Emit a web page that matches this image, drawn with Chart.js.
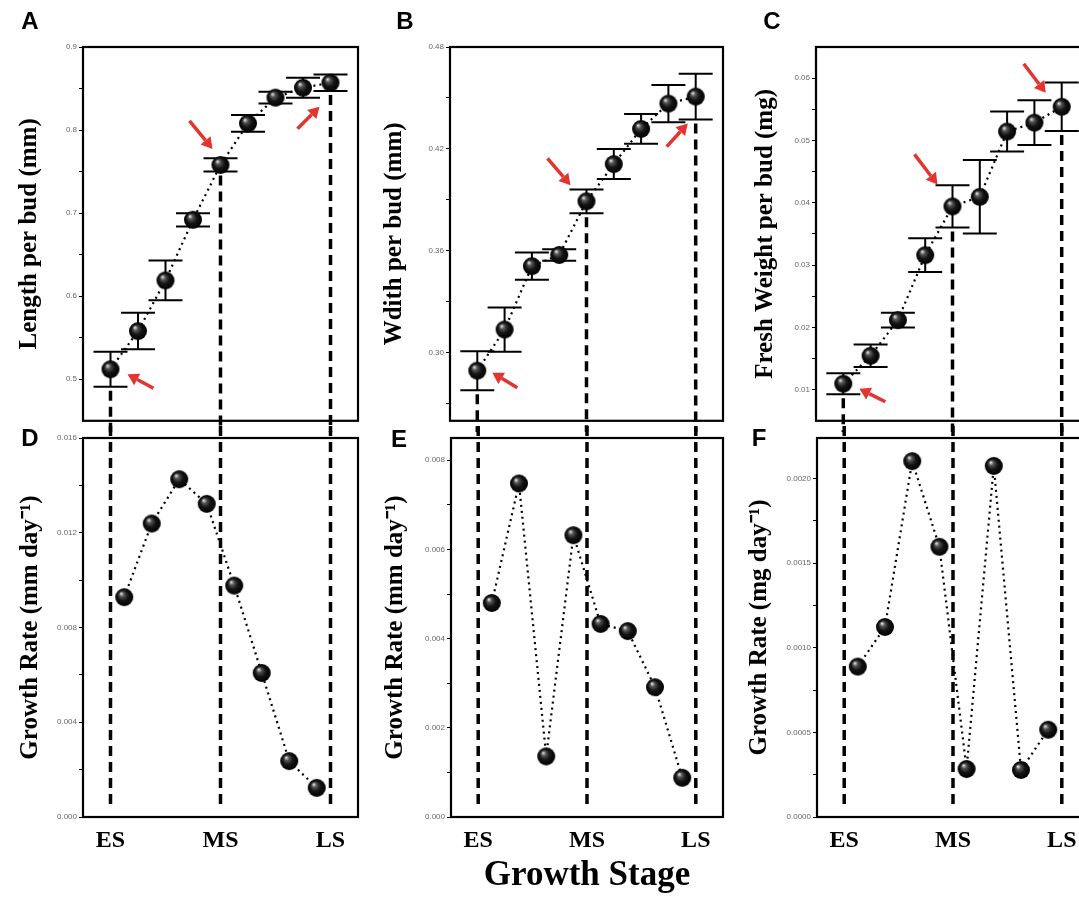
<!DOCTYPE html>
<html>
<head>
<meta charset="utf-8">
<script src="https://cdn.jsdelivr.net/npm/chart.js@4.4.0/dist/chart.umd.min.js"></script>
<style>
body { margin: 0; background: #fff; overflow: hidden; width: 1079px; height: 897px; position: relative; }
canvas { position: absolute; }
</style>
</head>
<body>
<canvas id="cA" width="370" height="432" style="left:0;top:0"></canvas>
<canvas id="cB" width="365" height="432" style="left:370px;top:0"></canvas>
<canvas id="cC" width="366" height="432" style="left:735px;top:0"></canvas>
<canvas id="cD" width="370" height="477" style="left:0;top:420px"></canvas>
<canvas id="cE" width="365" height="477" style="left:370px;top:420px"></canvas>
<canvas id="cF" width="366" height="477" style="left:735px;top:420px"></canvas>
<script>
// positions on the growth-stage axis
const budPos = [0, 1, 2, 3, 4, 5, 6, 7, 8];
const ratePos = [0.5, 1.5, 2.5, 3.5, 4.5, 5.5, 6.5, 7.5];
const stageLabels = ['ES', 'MS', 'LS'];
const stagePos = [0, 4, 8];

// bud size (mean +/- error)
const lengthMean = [0.512, 0.558, 0.619, 0.692, 0.758, 0.808, 0.839, 0.851, 0.857];
const lengthErr  = [0.021, 0.022, 0.024, 0.008, 0.008, 0.010, 0.007, 0.012, 0.010];
const widthMean  = [0.2895, 0.3137, 0.351, 0.3576, 0.3892, 0.4111, 0.4318, 0.4467, 0.4508];
const widthErr   = [0.0115, 0.013, 0.008, 0.0034, 0.007, 0.0088, 0.0087, 0.011, 0.0134];
const weightMean = [0.01095, 0.01544, 0.02116, 0.03159, 0.03941, 0.04095, 0.05143, 0.05286, 0.0554];
const weightErr  = [0.0017, 0.0018, 0.0012, 0.0027, 0.0034, 0.0059, 0.0032, 0.0036, 0.0039];

// growth rates between samplings
const lengthRate = [0.00928, 0.01239, 0.01426, 0.01322, 0.00977, 0.00608, 0.00236, 0.00123];
const widthRate  = [0.00480, 0.00748, 0.00136, 0.00632, 0.00433, 0.00417, 0.00291, 0.00088];
const weightRate = [0.000889, 0.001123, 0.002103, 0.001597, 0.000284, 0.002075, 0.000278, 0.000516];

// y ticks
const lengthTicks = [0.5, 0.6, 0.7, 0.8, 0.9];
const lengthMinor = [0.55, 0.65, 0.75, 0.85];
const widthTicks = [0.30, 0.36, 0.42, 0.48];
const widthMinor = [0.27, 0.33, 0.39, 0.45];
const weightTicks = [0.01, 0.02, 0.03, 0.04, 0.05, 0.06];
const weightMinor = [0.015, 0.025, 0.035, 0.045, 0.055];
const lengthRateTicks = [0, 0.004, 0.008, 0.012, 0.016];
const lengthRateMinor = [0.002, 0.006, 0.010, 0.014];
const widthRateTicks = [0, 0.002, 0.004, 0.006, 0.008];
const widthRateMinor = [0.001, 0.003, 0.005, 0.007];
const weightRateTicks = [0, 0.0005, 0.001, 0.0015, 0.002];
const weightRateMinor = [0.00025, 0.00075, 0.00125, 0.00175];

const serif = '"Liberation Serif", "Times New Roman", serif';
const sans = '"Liberation Sans", Arial, sans-serif';

// shiny black ball used as point marker
function makeBall(r) {
    const c = document.createElement('canvas');
    c.width = c.height = r * 2 + 2;
    const g = c.getContext('2d');
    const m = r + 1;
    const grad = g.createRadialGradient(m - r * 0.35, m - r * 0.4, 0.5, m, m, r);
    grad.addColorStop(0, '#d8d8d8');
    grad.addColorStop(0.22, '#555');
    grad.addColorStop(0.55, '#151515');
    grad.addColorStop(1, '#000');
    g.fillStyle = grad;
    g.beginPath();
    g.arc(m, m, r, 0, Math.PI * 2);
    g.fill();
    return c;
}
const ball = makeBall(9);

function drawArrow(ctx, x1, y1, x2, y2) {
    const a = Math.atan2(y2 - y1, x2 - x1);
    const hl = 11, hw = 6.5;
    const bx = x2 - hl * Math.cos(a), by = y2 - hl * Math.sin(a);
    ctx.strokeStyle = ctx.fillStyle = '#e3342f';
    ctx.lineWidth = 3.5;
    ctx.setLineDash([]);
    ctx.beginPath(); ctx.moveTo(x1, y1); ctx.lineTo(bx, by); ctx.stroke();
    ctx.beginPath();
    ctx.moveTo(x2, y2);
    ctx.lineTo(bx + hw * Math.sin(a), by - hw * Math.cos(a));
    ctx.lineTo(bx - hw * Math.sin(a), by + hw * Math.cos(a));
    ctx.closePath(); ctx.fill();
}

function makeDeco(p) {
    return {
        id: 'deco',
        beforeDatasetsDraw(chart) {
            const ctx = chart.ctx, xs = chart.scales.x, ys = chart.scales.y, area = chart.chartArea;
            ctx.save();
            // stage lines
            ctx.strokeStyle = '#000';
            ctx.lineWidth = 3.5;
            ctx.setLineDash([10, 6]);
            stagePos.forEach(s => {
                const px = xs.getPixelForValue(s);
                let y0, y1;
                if (p.err) {
                    const i = p.x.indexOf(s);
                    y0 = ys.getPixelForValue(p.y[i] - p.err[i]) + 4;
                    y1 = chart.height;
                } else {
                    y0 = area.top - 12;
                    y1 = area.bottom - 8;
                }
                ctx.beginPath(); ctx.moveTo(px, y0); ctx.lineTo(px, y1); ctx.stroke();
            });
            // error bars
            if (p.err) {
                ctx.setLineDash([]);
                ctx.lineWidth = 2;
                p.y.forEach((v, i) => {
                    const px = xs.getPixelForValue(p.x[i]);
                    const t = ys.getPixelForValue(v + p.err[i]);
                    const b = ys.getPixelForValue(v - p.err[i]);
                    ctx.beginPath();
                    ctx.moveTo(px, t); ctx.lineTo(px, b);
                    ctx.moveTo(px - 17, t); ctx.lineTo(px + 17, t);
                    ctx.moveTo(px - 17, b); ctx.lineTo(px + 17, b);
                    ctx.stroke();
                });
            }
            ctx.restore();
        },
        afterDraw(chart) {
            const ctx = chart.ctx, xs = chart.scales.x, ys = chart.scales.y, area = chart.chartArea;
            ctx.save();
            ctx.strokeStyle = '#000';
            ctx.lineWidth = 2.2;
            ctx.setLineDash([]);
            ctx.strokeRect(area.left, area.top, area.right - area.left, area.bottom - area.top);
            (p.arrows || []).forEach(a => {
                const px = xs.getPixelForValue(p.x[a.i]);
                const py = ys.getPixelForValue(p.y[a.i]);
                drawArrow(ctx, px + a.tx, py + a.ty, px + a.hx, py + a.hy);
            });
            ctx.fillStyle = '#000';
            ctx.font = 'bold 24px ' + sans;
            ctx.textAlign = 'center';
            ctx.textBaseline = 'middle';
            ctx.fillText(p.letter, p.letterPos[0], p.letterPos[1]);
            ctx.restore();
        }
    };
}

function makeChart(id, p) {
    const ticks = p.major.map(v => ({ value: v, label: v.toFixed(p.dec) }))
        .concat(p.minor.map(v => ({ value: v, label: '' })))
        .sort((a, b) => a.value - b.value);
    return new Chart(document.getElementById(id), {
        type: 'line',
        data: {
            datasets: [{
                data: p.x.map((x, i) => ({ x: x, y: p.y[i] })),
                borderColor: '#000',
                borderWidth: 2.2,
                borderDash: [2, 4],
                pointStyle: ball,
                pointRadius: 9,
                tension: 0,
                fill: false
            }]
        },
        options: {
            responsive: false,
            animation: false,
            devicePixelRatio: 1,
            layout: { padding: { top: p.padTop, bottom: p.padBottom, right: 12, left: 0 } },
            plugins: { legend: { display: false }, tooltip: { enabled: false } },
            scales: {
                x: {
                    type: 'linear',
                    min: -1,
                    max: 9,
                    display: !p.err,
                    border: { display: false },
                    grid: { display: false },
                    afterBuildTicks: s => { s.ticks = stagePos.map(v => ({ value: v })); },
                    afterFit: s => { if (!p.err) s.height = 80; },
                    ticks: {
                        autoSkip: false,
                        maxRotation: 0,
                        padding: 1,
                        color: '#000',
                        font: { family: serif, size: 24, weight: 'bold' },
                        callback: (v, i) => stageLabels[i]
                    },
                    title: {
                        display: !!p.xTitle,
                        text: p.xTitle || '',
                        color: '#000',
                        padding: { top: 0, bottom: 0 },
                        font: { family: serif, size: 35, weight: 'bold' }
                    }
                },
                y: {
                    min: p.ymin,
                    max: p.ymax,
                    border: { display: false },
                    grid: { drawOnChartArea: false, drawTicks: true, tickLength: 4, color: '#000', lineWidth: 1 },
                    afterBuildTicks: s => { s.ticks = ticks.map(t => ({ value: t.value })); },
                    afterFit: s => { s.width = p.yWidth; },
                    ticks: {
                        padding: 2,
                        color: '#666',
                        font: { family: sans, size: 8 },
                        callback: (v, i) => ticks[i].label
                    },
                    title: {
                        display: true,
                        text: p.title,
                        color: '#000',
                        padding: { top: p.titlePad, bottom: 0 },
                        font: { family: serif, size: 25, weight: 'bold' }
                    }
                }
            }
        },
        plugins: [makeDeco(p)]
    });
}

makeChart('cA', {
    x: budPos, y: lengthMean, err: lengthErr, ymin: 0.45, ymax: 0.9,
    major: lengthTicks, minor: lengthMinor, dec: 1,
    title: 'Length per bud (mm)', titlePad: 15, yWidth: 83, padTop: 47, padBottom: 6,
    letter: 'A', letterPos: [30, 22],
    arrows: [{ i: 0, hx: 17, hy: 5, tx: 43, ty: 19 }, { i: 4, hx: -8, hy: -16, tx: -31, ty: -44 }, { i: 8, hx: -11, hy: 24, tx: -33, ty: 46 }]
});
makeChart('cB', {
    x: budPos, y: widthMean, err: widthErr, ymin: 0.26, ymax: 0.48,
    major: widthTicks, minor: widthMinor, dec: 2,
    title: 'Wdith per bud (mm)', titlePad: 10, yWidth: 80, padTop: 47, padBottom: 6,
    letter: 'B', letterPos: [35, 22],
    arrows: [{ i: 0, hx: 15, hy: 2, tx: 40, ty: 17 }, { i: 4, hx: -16, hy: -16, tx: -39, ty: -43 }, { i: 8, hx: -8, hy: 27, tx: -29, ty: 50 }]
});
makeChart('cC', {
    x: budPos, y: weightMean, err: weightErr, ymin: 0.005, ymax: 0.065,
    major: weightTicks, minor: weightMinor, dec: 2,
    title: 'Fresh Weight per bud (mg)', titlePad: 16, yWidth: 81, padTop: 47, padBottom: 6,
    letter: 'C', letterPos: [37, 22],
    arrows: [{ i: 0, hx: 16, hy: 5, tx: 42, ty: 18 }, { i: 4, hx: -15, hy: -22, tx: -38, ty: -52 }, { i: 8, hx: -16, hy: -14, tx: -38, ty: -43 }]
});
makeChart('cD', {
    x: ratePos, y: lengthRate, ymin: 0, ymax: 0.016,
    major: lengthRateTicks, minor: lengthRateMinor, dec: 3,
    title: 'Growth Rate (mm day\u207B\u00B9)', titlePad: 16, yWidth: 83, padTop: 18, padBottom: 0,
    letter: 'D', letterPos: [30, 19]
});
makeChart('cE', {
    x: ratePos, y: widthRate, ymin: 0, ymax: 0.0085,
    major: widthRateTicks, minor: widthRateMinor, dec: 3,
    title: 'Growth Rate (mm day\u207B\u00B9)', titlePad: 11, yWidth: 81, padTop: 18, padBottom: 0,
    xTitle: 'Growth Stage',
    letter: 'E', letterPos: [29, 20]
});
makeChart('cF', {
    x: ratePos, y: weightRate, ymin: 0, ymax: 0.00224,
    major: weightRateTicks, minor: weightRateMinor, dec: 4,
    title: 'Growth Rate (mg day\u207B\u00B9)', titlePad: 10, yWidth: 82, padTop: 18, padBottom: 0,
    letter: 'F', letterPos: [24, 19]
});
</script>
</body>
</html>
